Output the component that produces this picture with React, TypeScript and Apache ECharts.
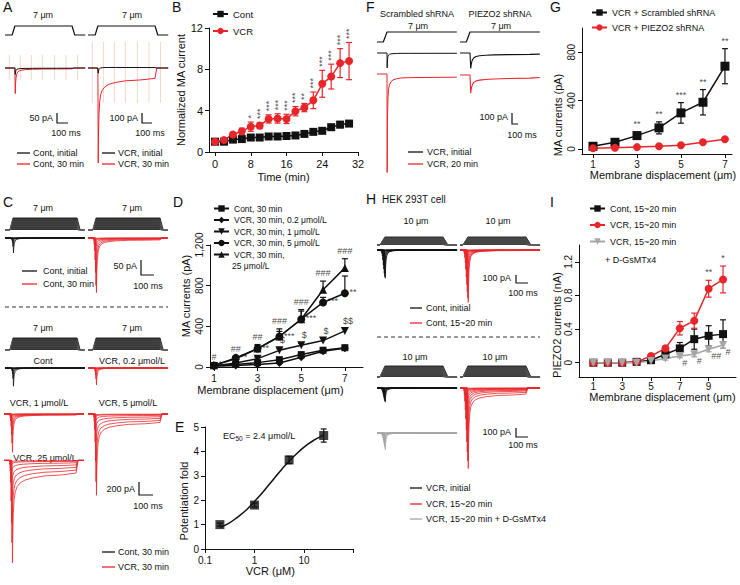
import React, { useEffect, useRef } from 'react';
import * as echarts from 'echarts';

const FONT = '"Liberation Sans", Arial, Helvetica, sans-serif';
const RED = '#e8262a';
const BLACK = '#111111';
const GREY = '#a6a6a6';
const ART = '#f7cdb9';

// ---------- Panel B ----------
const B_time = [0, 2, 4, 6, 8, 10, 12, 14, 16, 18, 20, 22, 24, 26, 28, 30];
const B_cont = [1.0, 1.0, 1.2, 1.25, 1.4, 1.4, 1.5, 1.5, 1.55, 1.6, 1.75, 1.95, 2.05, 2.4, 2.65, 2.75];
const B_contErr = [0.05, 0.05, 0.1, 0.1, 0.1, 0.1, 0.1, 0.1, 0.1, 0.1, 0.1, 0.15, 0.15, 0.25, 0.3, 0.25];
const B_vcr = [1.0, 1.15, 1.7, 2.0, 2.45, 2.55, 3.2, 3.25, 3.2, 3.95, 4.3, 5.0, 6.6, 7.3, 8.6, 8.8];
const B_vcrErr = [0.05, 0.1, 0.15, 0.3, 0.45, 0.3, 0.4, 0.45, 0.45, 0.45, 0.4, 0.8, 1.3, 1.2, 1.4, 1.8];
const B_sig = ['', '', '', '', '*', '***', '***', '***', '***', '***', '**', '***', '***', '***', '***', '***'];
const B_xTicks = [0, 8, 16, 24, 32];

// ---------- Panel D ----------
const D_disp = [1, 2, 3, 4, 5, 6, 7];
const D_cont = [15, 25, 43, 72, 122, 165, 190];
const D_contErr = [3, 5, 8, 10, 15, 15, 20];
const D_v02 = [8, 15, 25, 40, 95, 155, 185];
const D_v02Err = [2, 3, 5, 6, 10, 12, 15];
const D_v1 = [10, 40, 82, 164, 214, 260, 355];
const D_v1Err = [3, 8, 12, 15, 20, 25, 25];
const D_v5 = [15, 90, 181, 300, 470, 635, 725];
const D_v5Err = [5, 15, 30, 50, 80, 50, 170];
const D_v25 = [16, 80, 181, 300, 470, 760, 975];
const D_v25Err = [5, 20, 40, 75, 95, 85, 90];
const D_hash = ['#', '##', '##', '###', '###', '###', '###'];
const D_star = ['*', '**', '**', '***', '***', '***', '**'];
const D_dollar = ['', '', '', '$$', '$', '$$', '$$$'];
const D_xTicks = [1, 3, 5, 7];

// ---------- Panel E ----------
const E_conc = [0.2, 1, 5, 25];
const E_fold = [1.0, 1.8, 3.65, 4.65];
const E_err = [0.06, 0.08, 0.15, 0.27];
const E_fitConc = [0.2, 0.3, 0.45, 0.7, 1, 1.5, 2.4, 3.5, 5, 8, 12, 18, 25];
const E_fitFold = [0.88, 1.05, 1.3, 1.62, 1.95, 2.35, 2.85, 3.25, 3.6, 4.0, 4.3, 4.52, 4.68];

// ---------- Panel G ----------
const G_disp = [1, 2, 3, 4, 5, 6, 7];
const G_scr = [22, 55, 110, 174, 298, 386, 684];
const G_scrErr = [8, 15, 30, 50, 85, 105, 145];
const G_pz = [5, 10, 15, 22, 30, 55, 80];
const G_pzErr = [2, 3, 4, 5, 6, 8, 10];
const G_sig = ['', '', '**', '**', '***', '**', '**'];

// ---------- Panel I ----------
const I_disp = [1, 2, 3, 4, 5, 6, 7, 8, 9, 10];
const I_cont = [0, 0, 0, 0.01, 0.03, 0.1, 0.17, 0.28, 0.32, 0.34];
const I_contErr = [0, 0, 0, 0.01, 0.02, 0.03, 0.07, 0.12, 0.12, 0.17];
const I_vcr = [0, 0, 0, 0.01, 0.08, 0.17, 0.41, 0.5, 0.88, 0.99];
const I_vcrErr = [0, 0, 0, 0.01, 0.02, 0.03, 0.08, 0.09, 0.1, 0.16];
const I_gs = [0, 0, 0, 0, 0.02, 0.05, 0.08, 0.1, 0.16, 0.21];
const I_gsErr = [0, 0, 0, 0, 0.01, 0.02, 0.02, 0.03, 0.03, 0.04];
const I_vcrSig = ['', '', '', '', '', '', '', '', '**', '*'];
const I_gsSig = ['', '', '', '', '', '', '#', '#', '##', '#'];

// ---------- current-trace kinetics (normalised) ----------
const KIN_T = [0, 3, 6, 10, 16, 25, 40, 65, 100, 160, 250, 380];
const KIN_FAST = [0, 1, 0.6, 0.36, 0.2, 0.11, 0.06, 0.03, 0.015, 0.006, 0, 0];
const KIN_SLOW = [0, 1, 1, 0.98, 0.96, 0.93, 0.88, 0.82, 0.76, 0.7, 0.64, 0.6];
const KIN_SLOW_END = 0.52;

// Panel A traces (pA)
const A_contPeak = [30, 120];
const A_contSus = [2, 8];
const A_vcrPeak = [60, 750];
const A_vcrSus = [-8, 200];
const A_artifactT = [40, 140, 240, 340, 450, 555, 660];
const A_artifactL = [65, -60];
const A_artifactR = [260, -350];

// Panel C traces (pA per step)
const C_steps = [1, 2, 3, 4, 5, 6, 7];
const C_contInitPeak = [1, 2, 4, 8, 15, 28, 50];
const C_cont30Peak = [8, 20, 40, 70, 110, 150, 170];
const C_cont30Sus = [0, 1, 2, 3, 5, 8, 12];
const C_contPeak = [5, 10, 20, 45, 90, 160, 280];
const C_v02Peak = [5, 10, 25, 50, 100, 170, 260];
const C_v1Peak = [20, 50, 100, 180, 300, 430, 560];
const C_v1Sus = [0, 2, 5, 10, 15, 20, 28];
const C_v5Peak = [40, 100, 200, 350, 600, 850, 1000];
const C_v5Sus = [5, 15, 40, 80, 130, 190, 250];
const C_v25Peak = [60, 150, 300, 550, 850, 1100, 1350];
const C_v25Sus = [10, 30, 80, 150, 230, 320, 420];

// Panel F traces (pA): [initial, 20 min]
const F_scrPeak = [130, 840];
const F_scrSus = [5, 55];
const F_pzPeak = [120, 120];
const F_pzSus = [20, 45];

// Panel H traces (pA per step)
const H_steps = [1, 2, 3, 4, 5, 6, 7, 8, 9, 10];
const H_contInitPeak = [10, 20, 40, 70, 120, 180, 230, 280, 320, 340];
const H_cont20Peak = [20, 50, 90, 150, 230, 320, 410, 500, 570, 620];
const H_cont20Sus = [0, 1, 2, 3, 4, 5, 6, 8, 10, 12];
const H_vcrInitPeak = [5, 10, 20, 35, 55, 80, 110, 135, 155, 170];
const H_vcr20Peak = [30, 80, 150, 250, 350, 470, 600, 700, 780, 830];
const H_vcr20Sus = [2, 5, 10, 15, 25, 35, 50, 70, 100, 140];
const H_gsPeak = [5, 10, 20, 35, 55, 80, 110, 140, 170, 200];

function makeTrace(start: number, off: number, end: number, peak: number, sus: number, stretch = 1) {
  const pts: number[][] = [[0, 0], [start, 0]];
  const lim = Math.min(off, end);
  for (let i = 1; i < KIN_T.length; i++) {
    const t = start + KIN_T[i] * stretch;
    if (t >= lim) break;
    pts.push([t, -(peak * KIN_FAST[i] + sus * KIN_SLOW[i])]);
  }
  if (off < end) {
    pts.push([off, -sus * KIN_SLOW_END], [off + 15, 0], [end, 0]);
  } else {
    pts.push([end, -sus * KIN_SLOW_END]);
  }
  return pts;
}

function makeStim(on: number, v: number, off: number, end: number, s: number) {
  const r = s / v;
  const pts: number[][] = [[0, 0], [on, 0], [on + r, s]];
  if (off < end) pts.push([off, s], [off + r, 0], [end, 0]);
  else pts.push([end, s]);
  return pts;
}

function buildOption() {
  const grid: any[] = [];
  const xAxis: any[] = [];
  const yAxis: any[] = [];
  const series: any[] = [];
  const graphic: any[] = [];
  const legend: any[] = [];

  const addGrid = (rect: any, xa: any, ya: any) => {
    const i = grid.length;
    grid.push({ ...rect, show: false });
    xAxis.push({ gridIndex: i, ...xa });
    yAxis.push({ gridIndex: i, ...ya });
    return i;
  };

  const axis = (o: any) => {
    const label: any = { color: BLACK, fontSize: o.labelSize ?? 10, fontFamily: FONT, margin: o.margin ?? 6, rotate: o.rotate ?? 0 };
    const tick: any = { show: true, length: 4, lineStyle: { color: BLACK, width: 1 } };
    if (o.ticks) { label.customValues = o.ticks; tick.customValues = o.ticks; }
    if (o.formatter) label.formatter = o.formatter;
    const a: any = {
      type: o.type ?? 'value', min: o.min, max: o.max,
      axisLine: { show: true, onZero: false, lineStyle: { color: BLACK, width: 1 } },
      axisTick: tick, axisLabel: label, splitLine: { show: false },
      name: o.name, nameLocation: 'middle', nameGap: o.nameGap,
      nameTextStyle: { color: BLACK, fontSize: 11, fontFamily: FONT, padding: o.namePad ?? 0 },
    };
    if (o.nameRotate !== undefined) a.nameRotate = o.nameRotate;
    if (o.interval !== undefined) a.interval = o.interval;
    if (o.type === 'log') a.logBase = 10;
    return a;
  };

  const hidden = (min: number, max: number) => ({ type: 'value', show: false, min, max });

  const plotLine = (gi: number, name: string, xs: number[], ys: number[], color: string, symbol: string, size: number, rot = 0) => {
    series.push({
      type: 'line', name, xAxisIndex: gi, yAxisIndex: gi, data: xs.map((x, i) => [x, ys[i]]),
      symbol, symbolSize: size, symbolRotate: rot, showSymbol: true, silent: true, z: 3,
      lineStyle: { color, width: 1.5 }, itemStyle: { color, borderWidth: 0 },
    });
  };

  const errBars = (gi: number, xs: number[], ys: number[], es: number[], color: string, both: boolean, cap = 3) => {
    series.push({
      type: 'custom', xAxisIndex: gi, yAxisIndex: gi, silent: true, z: 2,
      data: xs.map((x, i) => [x, both ? ys[i] - es[i] : ys[i], ys[i] + es[i]]),
      encode: { x: 0, y: [1, 2] },
      renderItem: (_p: any, api: any) => {
        const x = api.value(0);
        const lo = api.coord([x, api.value(1)]);
        const hi = api.coord([x, api.value(2)]);
        const st = { stroke: color, lineWidth: 1.2 };
        const ch: any[] = [
          { type: 'line', shape: { x1: hi[0], y1: hi[1], x2: lo[0], y2: lo[1] }, style: st },
          { type: 'line', shape: { x1: hi[0] - cap, y1: hi[1], x2: hi[0] + cap, y2: hi[1] }, style: st },
        ];
        if (both) ch.push({ type: 'line', shape: { x1: lo[0] - cap, y1: lo[1], x2: lo[0] + cap, y2: lo[1] }, style: st });
        return { type: 'group', children: ch };
      },
    });
  };

  const annot = (gi: number, xs: number[], ys: number[], texts: string[], lab: any) => {
    series.push({
      type: 'scatter', xAxisIndex: gi, yAxisIndex: gi, silent: true, z: 4, symbol: 'circle', symbolSize: 1,
      itemStyle: { color: 'rgba(0,0,0,0)' },
      data: xs.map((x, i) => ({ value: [x, ys[i]], name: texts[i] })).filter((d) => d.name),
      label: { show: true, formatter: '{b}', color: BLACK, fontSize: 10, fontFamily: FONT, ...lab },
    });
  };

  const legendBox = (names: string[], left: number, top: number, gap: number, size: number) => {
    legend.push({
      data: names, orient: 'vertical', left, top, itemGap: gap, itemWidth: 15, itemHeight: 8, padding: 0,
      selectedMode: false, textStyle: { fontSize: size, fontFamily: FONT, color: BLACK },
    });
  };

  // ---- graphic helpers
  const T = (x: number, y: number, text: string, o: any = {}) => graphic.push({
    type: 'text', x, y, silent: true,
    style: { text, fill: o.fill ?? BLACK, fontSize: o.size ?? 9, fontFamily: FONT, align: o.align ?? 'center', verticalAlign: o.va ?? 'middle' },
  });
  const L = (x1: number, y1: number, x2: number, y2: number, color = BLACK, w = 1.3, dash?: number[]) => graphic.push({
    type: 'line', silent: true, shape: { x1, y1, x2, y2 }, style: { stroke: color, lineWidth: w, lineDash: dash },
  });
  const bar = (x: number, y1: number, y2: number, x2: number) => graphic.push({
    type: 'polyline', silent: true, shape: { points: [[x, y1], [x, y2], [x2, y2]] }, style: { stroke: BLACK, lineWidth: 1.2, fill: null },
  });
  const letter = (x: number, y: number, s: string) => T(x, y, s, { size: 14, align: 'left', va: 'top' });

  // ---- trace helpers
  const traceGrid = (left: number, width: number, baseline: number, xPerPx: number, yPerPx: number) => {
    const top = Math.max(0, baseline - 60);
    const up = baseline - top;
    const down = 140;
    return addGrid({ left, top, width, height: up + down }, hidden(0, width * xPerPx), hidden(-down * yPerPx, up * yPerPx));
  };
  const traceLine = (gi: number, pts: number[][], color: string, width = 0.8, extra: any = {}) => {
    series.push({
      type: 'line', xAxisIndex: gi, yAxisIndex: gi, data: pts, showSymbol: false, symbol: 'none', silent: true,
      lineStyle: { color, width }, z: 1, ...extra,
    });
  };
  const family = (gi: number, steps: number[], peaks: number[], sus: number[] | null, on: number, v: number, off: number, end: number, color: string) => {
    peaks.forEach((pk, i) => traceLine(gi, makeTrace(on + steps[i] / v, off, end, pk, sus ? sus[i] : 0), color, 0.8));
  };
  const stimFamily = (gi: number, steps: number[], on: number, v: number, off: number, end: number) => {
    const top = steps[steps.length - 1];
    traceLine(gi, makeStim(on, v, off, end, top), '#1a1a1a', 0.9, { areaStyle: { color: '#333333', opacity: 1 } });
    steps.slice(0, -1).forEach((s) => traceLine(gi, makeStim(on, v, off, end, s), '#5a5a5a', 0.5));
  };
  const artifacts = (gi: number, ts: number[], hiLo: number[]) => {
    series.push({
      type: 'custom', xAxisIndex: gi, yAxisIndex: gi, silent: true, z: 0,
      data: ts.map((t) => [t, hiLo[0], hiLo[1]]),
      renderItem: (_p: any, api: any) => {
        const a = api.coord([api.value(0), api.value(1)]);
        const b = api.coord([api.value(0), api.value(2)]);
        return { type: 'line', shape: { x1: a[0], y1: a[1], x2: b[0], y2: b[1] }, style: { stroke: ART, lineWidth: 0.8 } };
      },
    });
  };

  // ================= Panel B =================
  const gB = addGrid({ left: 209, top: 28, width: 149, height: 124 },
    axis({ min: -1.35, max: 32, ticks: B_xTicks, name: 'Time (min)', nameGap: 19, labelSize: 11, margin: 6 }),
    axis({ min: 0, max: 12, interval: 4, name: 'Normalized MA current', nameGap: 23, nameRotate: 90, labelSize: 11 }));
  errBars(gB, B_time, B_cont, B_contErr, BLACK, true);
  errBars(gB, B_time, B_vcr, B_vcrErr, RED, true);
  plotLine(gB, 'Cont', B_time, B_cont, BLACK, 'rect', 8);
  plotLine(gB, 'VCR', B_time, B_vcr, RED, 'circle', 8);
  annot(gB, B_time, B_vcr.map((v, i) => v + B_vcrErr[i]), B_sig,
    { position: 'top', distance: 3, rotate: 90, align: 'left', verticalAlign: 'middle', fontSize: 9 });
  legendBox(['Cont', 'VCR'], 212, 9, 7, 9.5);

  // ================= Panel D =================
  const gD = addGrid({ left: 210, top: 245, width: 153, height: 122 },
    axis({ min: 0.82, max: 7.83, ticks: D_xTicks, name: 'Membrane displacement (μm)', nameGap: 17, namePad: [0, 32, 0, 0] }),
    axis({ min: 0, max: 1200, interval: 400, rotate: 90, name: 'MA currents (pA)', nameGap: 19, nameRotate: 90, namePad: [0, 0, 0, 20] }));
  errBars(gD, D_disp, D_cont, D_contErr, BLACK, false);
  errBars(gD, D_disp, D_v02, D_v02Err, BLACK, false);
  errBars(gD, D_disp, D_v1, D_v1Err, BLACK, false);
  errBars(gD, D_disp, D_v5, D_v5Err, BLACK, false);
  errBars(gD, D_disp, D_v25, D_v25Err, BLACK, false);
  plotLine(gD, 'Cont, 30 min', D_disp, D_cont, BLACK, 'rect', 7);
  plotLine(gD, 'VCR, 30 min, 0.2 μmol/L', D_disp, D_v02, BLACK, 'diamond', 8);
  plotLine(gD, 'VCR, 30 min, 1 μmol/L', D_disp, D_v1, BLACK, 'triangle', 8, 180);
  plotLine(gD, 'VCR, 30 min, 5 μmol/L', D_disp, D_v5, BLACK, 'circle', 8);
  plotLine(gD, 'VCR, 30 min,', D_disp, D_v25, BLACK, 'triangle', 8);
  annot(gD, D_disp, D_v25.map((v, i) => v + D_v25Err[i]), D_hash, { position: 'top', distance: 3, fontSize: 9 });
  annot(gD, D_disp, D_v5, D_star, { position: 'right', distance: 4, offset: [0, -1], fontSize: 9 });
  annot(gD, D_disp, D_v1, D_dollar, { position: 'top', distance: 5, offset: [3, 0], fontSize: 9 });
  legendBox(['Cont, 30 min', 'VCR, 30 min, 0.2 μmol/L', 'VCR, 30 min, 1 μmol/L', 'VCR, 30 min, 5 μmol/L', 'VCR, 30 min,'], 213, 204, 2.5, 8.5);
  T(232, 266, '25 μmol/L', { align: 'left', size: 8.5 });

  // ================= Panel E =================
  const gE = addGrid({ left: 205, top: 427, width: 148.5, height: 122 },
    axis({ type: 'log', min: 0.1, max: 100, formatter: (v: number) => (v >= 100 ? '' : String(v)), name: 'VCR (μM)', nameGap: 13, namePad: [0, 18, 0, 0] }),
    axis({ min: 0, max: 5, interval: 1, name: 'Potentiation fold', nameGap: 16, nameRotate: 90, namePad: [0, 26, 0, 0] }));
  series.push({
    type: 'line', xAxisIndex: gE, yAxisIndex: gE, data: E_fitConc.map((c, i) => [c, E_fitFold[i]]),
    smooth: true, showSymbol: false, symbol: 'none', silent: true, z: 2, lineStyle: { color: BLACK, width: 1.5 },
  });
  errBars(gE, E_conc, E_fold, E_err, BLACK, true);
  series.push({
    type: 'scatter', xAxisIndex: gE, yAxisIndex: gE, data: E_conc.map((c, i) => [c, E_fold[i]]),
    symbol: 'rect', symbolSize: 9, silent: true, z: 3, itemStyle: { color: BLACK },
  });
  graphic.push({
    type: 'text', x: 223, y: 436, silent: true,
    style: {
      text: '{a|EC}{s|50}{a| = 2.4 μmol/L}', align: 'left', verticalAlign: 'middle',
      rich: { a: { fontSize: 9, fontFamily: FONT, fill: BLACK }, s: { fontSize: 6.5, fontFamily: FONT, fill: BLACK, padding: [5, 0, 0, 0] } },
    },
  });

  // ================= Panel G =================
  const gG = addGrid({ left: 582, top: 28, width: 150, height: 126 },
    axis({ min: 0.5, max: 7.32, ticks: [1, 3, 5, 7], name: 'Membrane displacement (μm)', nameGap: 15, namePad: [0, 0, 0, 12], margin: 5 }),
    axis({ min: -42, max: 1000, ticks: [0, 400, 800], rotate: 90, name: 'MA currents (pA)', nameGap: 19, nameRotate: 90, namePad: [0, 48, 0, 0] }));
  errBars(gG, G_disp, G_scr, G_scrErr, BLACK, true);
  errBars(gG, G_disp, G_pz, G_pzErr, RED, true);
  plotLine(gG, 'VCR + Scrambled shRNA', G_disp, G_scr, BLACK, 'rect', 9);
  plotLine(gG, 'VCR + PIEZO2 shRNA', G_disp, G_pz, RED, 'circle', 8);
  annot(gG, G_disp, G_scr.map((v, i) => v + G_scrErr[i]), G_sig, { position: 'top', distance: 3, fontSize: 9 });
  legendBox(['VCR + Scrambled shRNA', 'VCR + PIEZO2 shRNA'], 591, 8, 6, 9);

  // ================= Panel I =================
  const gI = addGrid({ left: 579, top: 245, width: 157, height: 132 },
    axis({ min: 0, max: 10.9, ticks: [1, 3, 5, 7, 9], name: 'Membrane displacement (μm)', nameGap: 13, namePad: [0, 0, 0, 10], margin: 4 }),
    axis({ min: -0.17, max: 1.4, ticks: [0, 0.4, 0.8, 1.2], rotate: 90, name: 'PIEZO2 currents (nA)', nameGap: 17, nameRotate: 90, namePad: [0, 28, 0, 0] }));
  errBars(gI, I_disp, I_cont, I_contErr, BLACK, true);
  errBars(gI, I_disp, I_vcr, I_vcrErr, RED, true);
  errBars(gI, I_disp, I_gs, I_gsErr, GREY, true);
  plotLine(gI, 'Cont, 15~20 min', I_disp, I_cont, BLACK, 'rect', 8);
  plotLine(gI, 'VCR, 15~20 min', I_disp, I_vcr, RED, 'circle', 8);
  plotLine(gI, 'VCR, 15~20 min ', I_disp, I_gs, GREY, 'triangle', 8, 180);
  annot(gI, I_disp, I_vcr.map((v, i) => v + I_vcrErr[i]), I_vcrSig, { position: 'top', distance: 3, fontSize: 9 });
  annot(gI, I_disp, I_gs, I_gsSig, { position: 'right', distance: 2, offset: [0, 7], fontSize: 9 });
  legendBox(['Cont, 15~20 min', 'VCR, 15~20 min', 'VCR, 15~20 min '], 589, 204, 7.5, 9);
  T(605, 260, '+ D-GsMTx4', { align: 'left' });

  // ================= Panel A (traces) =================
  const A_ms = 9.1, A_ON = 65, A_V = 7 / 25, A_OFF = 610, A_END = 730;
  const gAsL = traceGrid(5, 80, 35, A_ms, 7 / 9);
  const gAsR = traceGrid(88, 80, 35, A_ms, 7 / 9);
  traceLine(gAsL, makeStim(A_ON, A_V, A_OFF, A_END, 7), BLACK, 1.2);
  traceLine(gAsR, makeStim(A_ON, A_V, A_OFF, A_END, 7), BLACK, 1.2);
  const gAL = traceGrid(5, 80, 68, A_ms, 5);
  const gAR = traceGrid(88, 80, 68, A_ms, 10);
  artifacts(gAL, A_artifactT, A_artifactL);
  artifacts(gAR, A_artifactT, A_artifactR);
  const aStart = A_ON + 7 / A_V;
  traceLine(gAL, makeTrace(aStart, A_OFF, A_END, A_contPeak[1], A_contSus[1]), RED, 1);
  traceLine(gAL, makeTrace(aStart, A_OFF, A_END, A_contPeak[0], A_contSus[0]), BLACK, 1);
  traceLine(gAR, makeTrace(aStart, A_OFF, A_END, A_vcrPeak[1], A_vcrSus[1]), RED, 1);
  traceLine(gAR, makeTrace(aStart, A_OFF, A_END, A_vcrPeak[0], A_vcrSus[0]), BLACK, 1);
  T(43, 15, '7 μm'); T(132, 15, '7 μm');
  T(53, 118, '50 pA', { align: 'right' }); bar(57, 113, 123, 68); T(66, 133, '100 ms');
  T(138, 118, '100 pA', { align: 'right' }); bar(142, 113, 123, 152); T(150, 133, '100 ms');
  L(17, 153, 30, 153); T(33, 153, 'Cont, initial', { align: 'left' });
  L(17, 164, 30, 164, RED); T(33, 164, 'Cont, 30 min', { align: 'left' });
  L(102, 153, 115, 153); T(118, 153, 'VCR, initial', { align: 'left' });
  L(102, 164, 115, 164, RED); T(118, 164, 'VCR, 30 min', { align: 'left' });

  // ================= Panel C (traces) =================
  const C_ms = 7.7, C_ON = 38, C_V = 7 / 24, C_OFF = 555, C_END = 615;
  const cTop = 50 / 15, cLow = 200 / 13;
  stimFamily(traceGrid(5, 80, 230, C_ms, 7 / 12), C_steps, C_ON, C_V, C_OFF, C_END);
  stimFamily(traceGrid(88, 80, 230, C_ms, 7 / 12), C_steps, C_ON, C_V, C_OFF, C_END);
  family(traceGrid(5, 80, 238, C_ms, cTop), C_steps, C_contInitPeak, null, C_ON, C_V, C_OFF, C_END, BLACK);
  family(traceGrid(88, 80, 238, C_ms, cTop), C_steps, C_cont30Peak, C_cont30Sus, C_ON, C_V, C_OFF, C_END, RED);
  stimFamily(traceGrid(5, 80, 350, C_ms, 7 / 12), C_steps, C_ON, C_V, C_OFF, C_END);
  stimFamily(traceGrid(88, 80, 350, C_ms, 7 / 12), C_steps, C_ON, C_V, C_OFF, C_END);
  family(traceGrid(5, 80, 368, C_ms, cLow), C_steps, C_contPeak, null, C_ON, C_V, C_OFF, C_END, BLACK);
  family(traceGrid(88, 80, 368, C_ms, cLow), C_steps, C_v02Peak, null, C_ON, C_V, C_OFF, C_END, RED);
  family(traceGrid(4, 81, 414, C_ms, cLow), C_steps, C_v1Peak, C_v1Sus, C_ON, C_V, C_OFF, C_END, RED);
  family(traceGrid(88, 80, 414, C_ms, cLow), C_steps, C_v5Peak, C_v5Sus, C_ON, C_V, C_OFF, C_END, RED);
  family(traceGrid(4, 80, 467, C_ms, cLow), C_steps, C_v25Peak, C_v25Sus, C_ON, C_V, C_OFF, C_END, RED);
  T(43, 208, '7 μm'); T(132, 208, '7 μm');
  L(22, 271, 37, 271); T(43, 271, 'Cont, initial', { align: 'left' });
  L(22, 284, 37, 284, RED); T(43, 284, 'Cont, 30 min', { align: 'left' });
  T(137, 266, '50 pA', { align: 'right' }); bar(141, 260, 275, 154); T(148, 286, '100 ms');
  L(5, 307, 168, 307, '#333', 1, [4, 3]);
  T(43, 328, '7 μm'); T(132, 328, '7 μm');
  T(43, 361, 'Cont'); T(132, 361, 'VCR, 0.2 μmol/L');
  T(39, 403, 'VCR, 1 μmol/L'); T(128, 403, 'VCR, 5 μmol/L');
  T(45, 458, 'VCR, 25 μmol/L');
  T(135, 489, '200 pA', { align: 'right' }); bar(139, 482, 495, 153); T(148, 506, '100 ms');
  L(102, 552, 115, 552); T(118, 552, 'Cont, 30 min', { align: 'left' });
  L(102, 567, 115, 567, RED); T(118, 567, 'VCR, 30 min', { align: 'left' });

  // ================= Panel F (traces) =================
  const F_ms = 16.7, F_ON = 105, F_V = 7 / 62, F_OFF = 1e9, F_END = 1333, fpA = 100 / 11;
  traceLine(traceGrid(377, 80, 42, F_ms, 0.7), makeStim(F_ON, F_V, F_OFF, F_END, 7), BLACK, 1.2);
  traceLine(traceGrid(460, 80, 42, F_ms, 0.7), makeStim(F_ON, F_V, F_OFF, F_END, 7), BLACK, 1.2);
  const fStart = F_ON + 7 / F_V;
  traceLine(traceGrid(377, 80, 53, F_ms, fpA), makeTrace(fStart, F_OFF, F_END, F_scrPeak[0], F_scrSus[0]), BLACK, 1);
  traceLine(traceGrid(377, 80, 74, F_ms, fpA), makeTrace(fStart, F_OFF, F_END, F_scrPeak[1], F_scrSus[1]), RED, 1);
  traceLine(traceGrid(460, 80, 53, F_ms, fpA), makeTrace(fStart, F_OFF, F_END, F_pzPeak[0], F_pzSus[0], 4), BLACK, 1.1);
  traceLine(traceGrid(460, 80, 75, F_ms, fpA), makeTrace(fStart, F_OFF, F_END, F_pzPeak[1], F_pzSus[1], 4), RED, 1.1);
  T(417, 14, 'Scrambled shRNA'); T(500, 14, 'PIEZO2 shRNA');
  T(418, 26, '7 μm'); T(501, 26, '7 μm');
  T(508, 117, '100 pA', { align: 'right' }); bar(512, 113, 124, 518); T(522, 135, '100 ms');
  L(408, 152, 423, 152); T(427, 152, 'VCR, initial', { align: 'left' });
  L(408, 164, 423, 164, RED); T(427, 164, 'VCR, 20 min', { align: 'left' });

  // ================= Panel H (traces) =================
  const H_ms = 100 / 12, H_ON = 25, H_V = 10 / 41, H_OFF = 550, H_END = 667, hpA = 100 / 8.3;
  stimFamily(traceGrid(377, 80, 245, H_ms, 10 / 8), H_steps, H_ON, H_V, H_OFF, H_END);
  stimFamily(traceGrid(460, 80, 245, H_ms, 10 / 8), H_steps, H_ON, H_V, H_OFF, H_END);
  family(traceGrid(377, 80, 250, H_ms, hpA), H_steps, H_contInitPeak, null, H_ON, H_V, H_OFF, H_END, BLACK);
  family(traceGrid(460, 80, 250, H_ms, hpA), H_steps, H_cont20Peak, H_cont20Sus, H_ON, H_V, H_OFF, H_END, RED);
  stimFamily(traceGrid(377, 80, 377, H_ms, 10 / 11), H_steps, H_ON, H_V, H_OFF, H_END);
  stimFamily(traceGrid(460, 80, 377, H_ms, 10 / 11), H_steps, H_ON, H_V, H_OFF, H_END);
  family(traceGrid(377, 80, 388, H_ms, hpA), H_steps, H_vcrInitPeak, null, H_ON, H_V, H_OFF, H_END, BLACK);
  family(traceGrid(377, 80, 433, H_ms, hpA), H_steps, H_gsPeak, null, H_ON, H_V, H_OFF, H_END, GREY);
  family(traceGrid(460, 80, 388, H_ms, hpA), H_steps, H_vcr20Peak, H_vcr20Sus, H_ON, H_V, H_OFF, H_END, RED);
  T(382, 199, 'HEK 293T cell', { align: 'left', size: 10 });
  T(416, 221, '10 μm'); T(498, 221, '10 μm');
  T(511, 278, '100 pA', { align: 'right' }); bar(516, 275, 283, 528); T(523, 293, '100 ms');
  L(410, 308, 422, 308); T(426, 308, 'Cont, initial', { align: 'left' });
  L(410, 323, 422, 323, RED); T(426, 323, 'Cont, 15~20 min', { align: 'left' });
  L(377, 337, 540, 337, '#333', 1, [4, 3]);
  T(415, 357, '10 μm'); T(495, 357, '10 μm');
  T(511, 432, '100 pA', { align: 'right' }); bar(516, 428, 437, 528); T(523, 445, '100 ms');
  L(410, 488, 422, 488); T(426, 488, 'VCR, initial', { align: 'left' });
  L(410, 504, 422, 504, RED); T(426, 504, 'VCR, 15~20 min', { align: 'left' });
  L(410, 519, 422, 519, GREY); T(426, 519, 'VCR, 15~20 min + D-GsMTx4', { align: 'left' });

  // ---- panel letters
  letter(3, 0, 'A'); letter(172, 0, 'B'); letter(3, 195, 'C'); letter(173, 195, 'D'); letter(175, 420, 'E');
  letter(366, 0, 'F'); letter(550, 0, 'G'); letter(366, 192, 'H'); letter(550, 195, 'I');

  return {
    animation: false,
    backgroundColor: '#ffffff',
    textStyle: { fontFamily: FONT },
    grid, xAxis, yAxis, series, legend, graphic,
  };
}

export default function App() {
  const ref = useRef<HTMLDivElement>(null);
  useEffect(() => {
    if (!ref.current) return;
    const chart = echarts.init(ref.current, undefined, { renderer: 'svg' });
    chart.setOption(buildOption() as any);
    return () => chart.dispose();
  }, []);
  return <div ref={ref} style={{ position: 'absolute', left: 0, top: 0, width: 740, height: 585 }} />;
}
